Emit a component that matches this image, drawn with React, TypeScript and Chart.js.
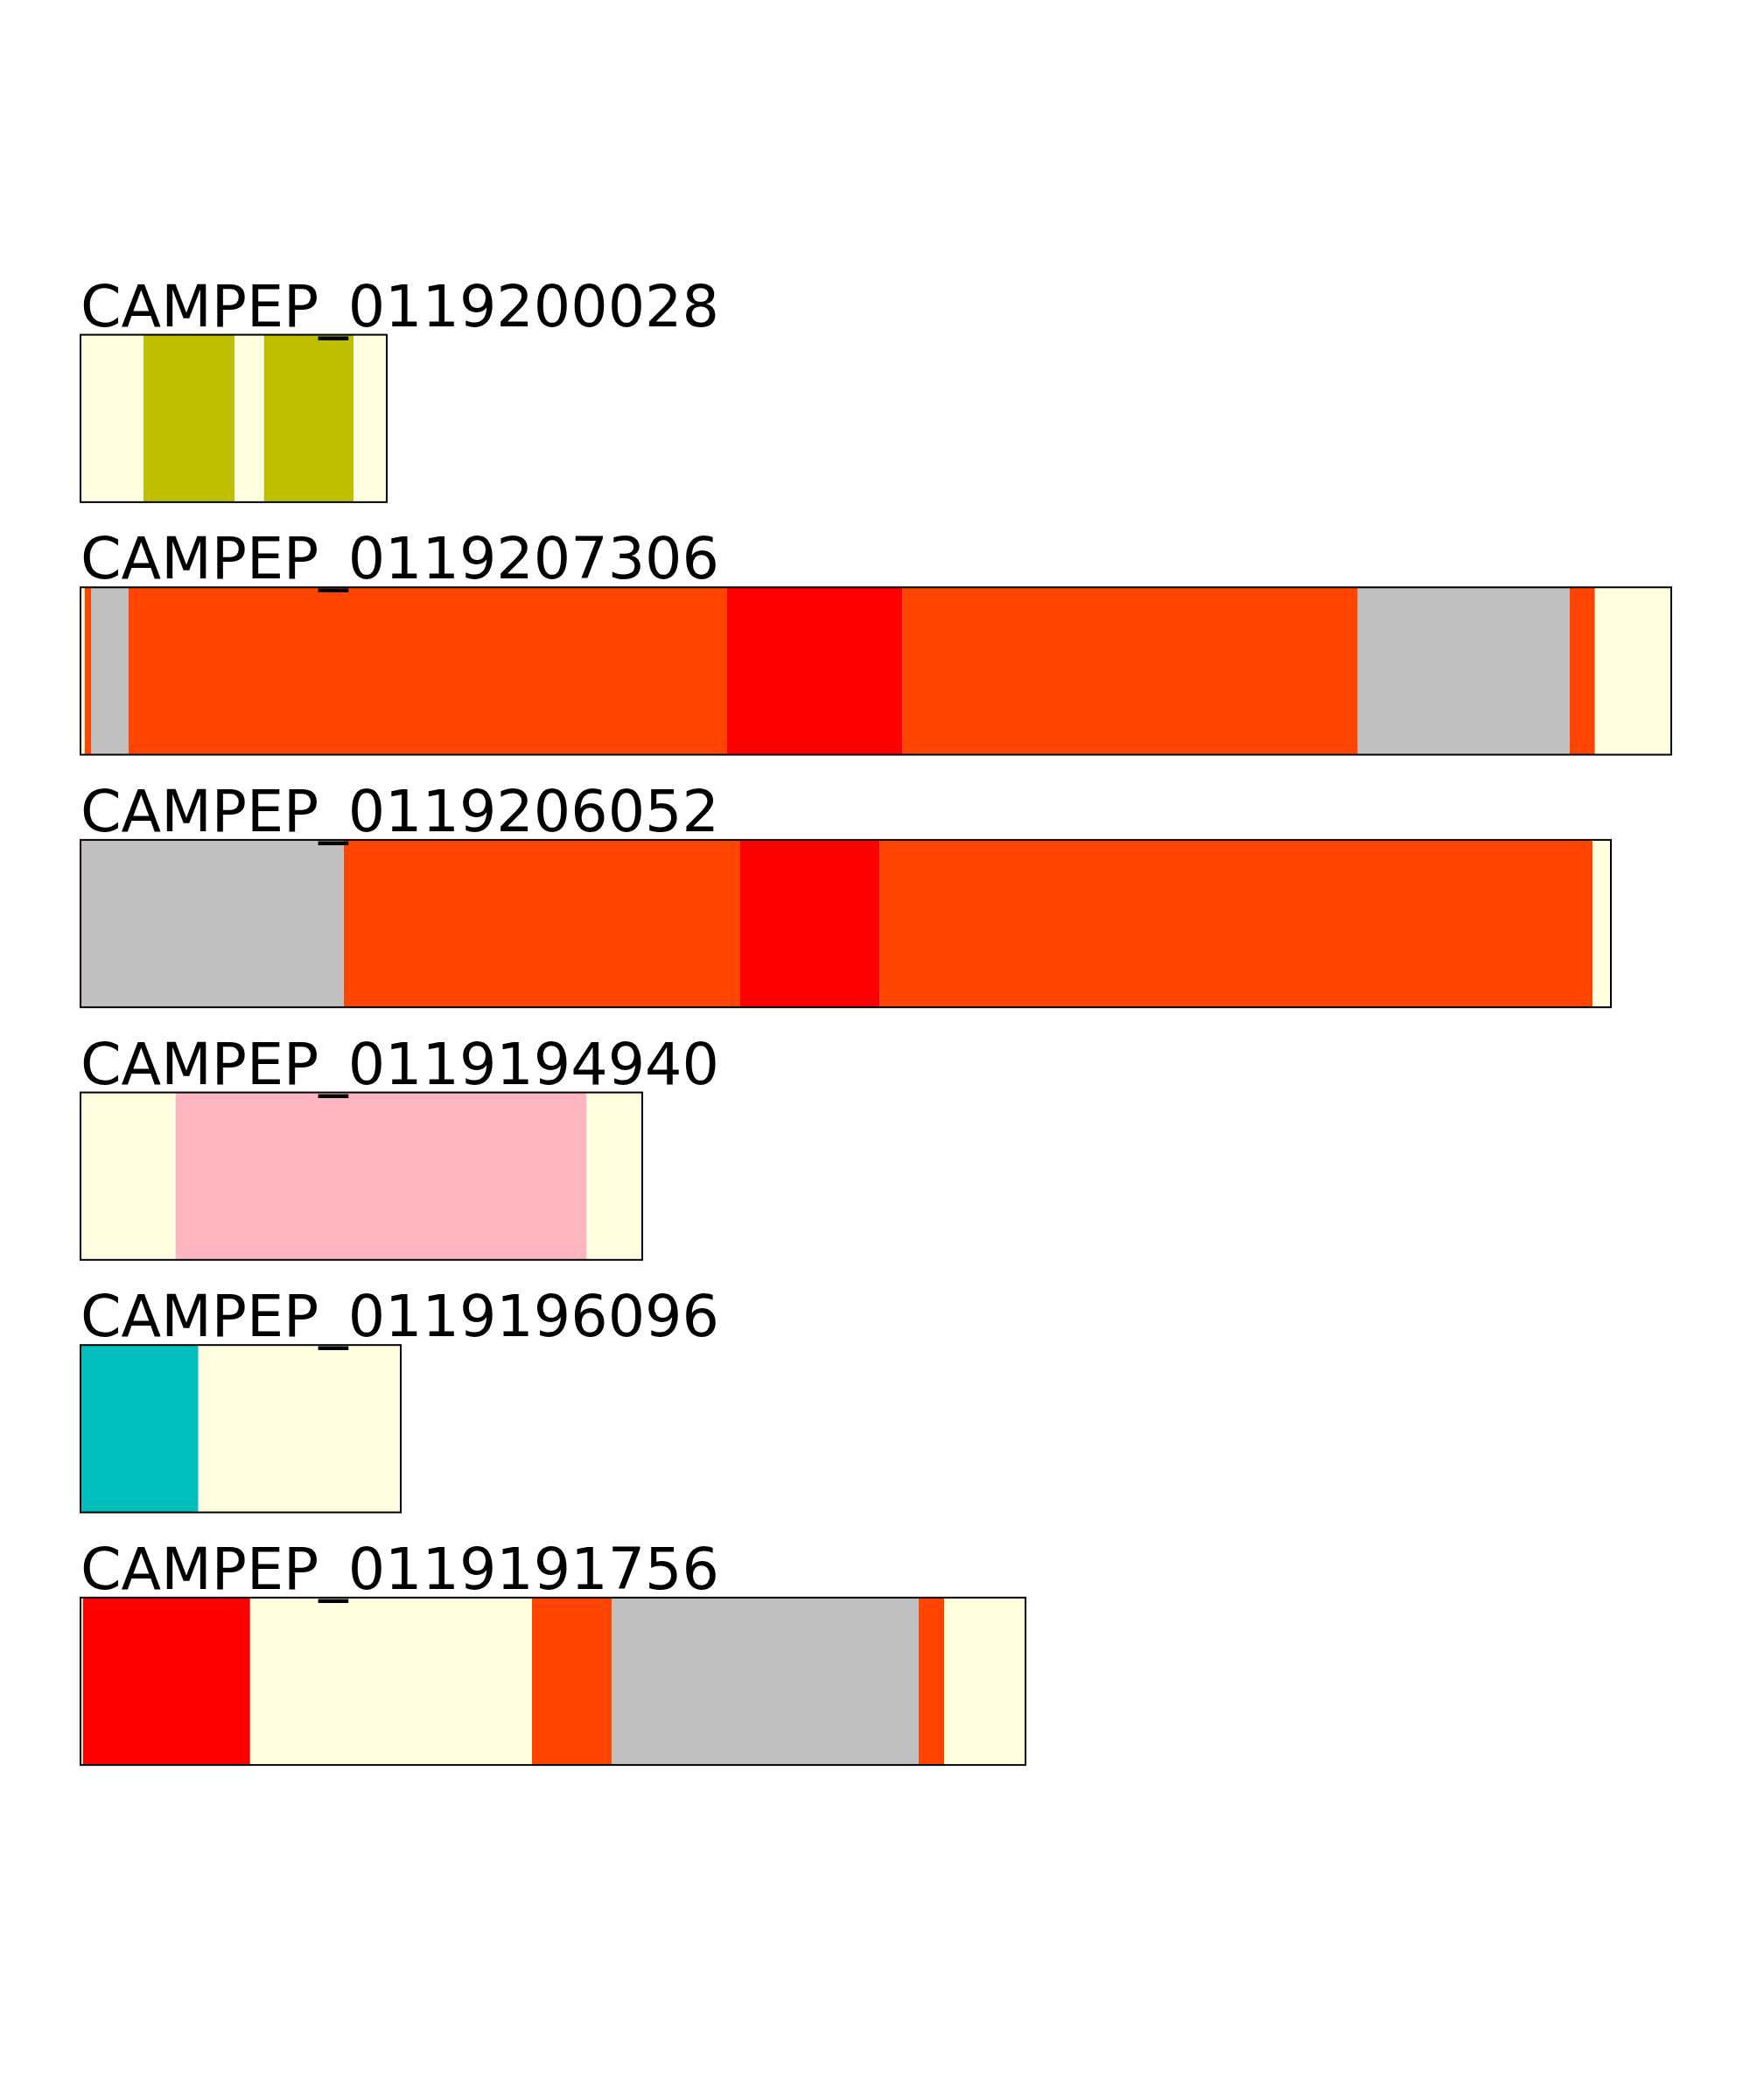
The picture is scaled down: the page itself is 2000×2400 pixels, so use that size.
import React, { useEffect, useRef } from "react";
import { Chart, registerables } from "chart.js";

Chart.register(...registerables);

// Row titles (top to bottom)
const rowIds = [
  "CAMPEP_0119200028",
  "CAMPEP_0119207306",
  "CAMPEP_0119206052",
  "CAMPEP_0119194940",
  "CAMPEP_0119196096",
  "CAMPEP_0119191756",
];

// Total length of each sequence (x-axis units)
const rowLengths = [175, 909, 874.5, 321, 183, 540];

// Segment boundaries per row (start of each segment, then the end)
const row1Bounds = [0, 36, 88, 104.75, 156, 175];
const row1Colors = ["lightyellow", "y", "lightyellow", "y", "lightyellow"];

const row2Bounds = [0, 2.3, 6, 27.5, 369.5, 469.8, 729.8, 850.8, 865.3, 909];
const row2Colors = ["lightyellow", "orangered", "silver", "orangered", "red", "orangered", "silver", "orangered", "lightyellow"];

const row3Bounds = [0, 0.6, 150.4, 377, 456.7, 864, 874.5];
const row3Colors = ["orangered", "silver", "orangered", "red", "orangered", "lightyellow"];

const row4Bounds = [0, 54.25, 289.15, 321];
const row4Colors = ["lightyellow", "lightpink", "lightyellow"];

const row5Bounds = [0, 67.25, 183];
const row5Colors = ["c", "lightyellow"];

const row6Bounds = [0, 1.3, 96.85, 258, 303.5, 479, 493.5, 540];
const row6Colors = ["lightyellow", "red", "lightyellow", "orangered", "silver", "orangered", "lightyellow"];

const colorMap: Record<string, string> = {
  lightyellow: "#FFFFE0",
  y: "#BFBF00",
  c: "#00BFBF",
  orangered: "#FF4500",
  red: "#FF0000",
  silver: "#C0C0C0",
  lightpink: "#FFB6C1",
};

const allBounds = [row1Bounds, row2Bounds, row3Bounds, row4Bounds, row5Bounds, row6Bounds];
const allColors = [row1Colors, row2Colors, row3Colors, row4Colors, row5Colors, row6Colors];

export default function App() {
  const canvasRef = useRef<HTMLCanvasElement | null>(null);

  useEffect(() => {
    const canvas = canvasRef.current;
    if (!canvas) return;

    const maxSegs = Math.max(...allColors.map((c) => c.length));
    const segDatasets: any[] = [];
    for (let k = 0; k < maxSegs; k++) {
      segDatasets.push({
        label: "seg" + k,
        data: allBounds.map((b, i) =>
          k < allColors[i].length ? [b[k], b[k + 1]] : null
        ),
        backgroundColor: allColors.map((c) =>
          k < c.length ? colorMap[c[k]] : "rgba(0,0,0,0)"
        ),
        borderWidth: 0,
        grouped: false,
        order: 1,
      });
    }
    // Outline of each row (geometry from the library, stroked centred on its edges)
    const frameDataset = {
      label: "frame",
      data: rowLengths.map((L) => [0, L]),
      backgroundColor: "rgba(0,0,0,0)",
      borderWidth: 0,
      grouped: false,
      order: 0,
    };

    const framePlugin = {
      id: "rowFramesAndTitles",
      afterDatasetsDraw(chart: any) {
        const idx = chart.data.datasets.length - 1;
        const meta = chart.getDatasetMeta(idx);
        const ctx = chart.ctx;
        ctx.save();
        meta.data.forEach((el: any, i: number) => {
          const p = el.getProps(["x", "y", "base", "height"], true);
          const left = Math.min(p.x, p.base);
          const right = Math.max(p.x, p.base);
          const top = p.y - p.height / 2;
          ctx.strokeStyle = "#000000";
          ctx.lineWidth = 2;
          ctx.strokeRect(left, top, right - left, p.height);
        });
        ctx.fillStyle = "#000000";
        ctx.font = '66.7px "DejaVu Sans"';
        ctx.textBaseline = "alphabetic";
        ctx.textAlign = "left";
        meta.data.forEach((el: any, i: number) => {
          const p = el.getProps(["x", "y", "base", "height"], true);
          const left = Math.min(p.x, p.base);
          const top = p.y - p.height / 2;
          ctx.fillText(rowIds[i], left, top - 10);
        });
        ctx.restore();
      },
    };

    const chart = new Chart(canvas, {
      type: "bar",
      data: {
        labels: rowIds,
        datasets: [...segDatasets, frameDataset],
      },
      options: {
        indexAxis: "y",
        responsive: false,
        animation: false,
        devicePixelRatio: 1,
        events: [],
        layout: {
          padding: { left: 92, right: 90, top: 333.9, bottom: 334.2 },
        },
        datasets: {
          bar: {
            categoryPercentage: 1,
            barPercentage: 0.6627,
          },
        },
        plugins: {
          legend: { display: false },
          tooltip: { enabled: false },
          title: { display: false },
        },
        scales: {
          x: {
            type: "linear",
            display: false,
            min: 0,
            max: rowLengths[1],
          },
          y: {
            type: "category",
            display: false,
            offset: true,
          },
        },
      },
      plugins: [framePlugin],
    } as any);

    return () => {
      chart.destroy();
    };
  }, []);

  return (
    <div
      style={{
        position: "absolute",
        left: 0,
        top: 0,
        width: 2000,
        height: 2400,
        background: "#ffffff",
      }}
    >
      <canvas ref={canvasRef} width={2000} height={2400} style={{ display: "block", width: 2000, height: 2400 }} />
    </div>
  );
}
